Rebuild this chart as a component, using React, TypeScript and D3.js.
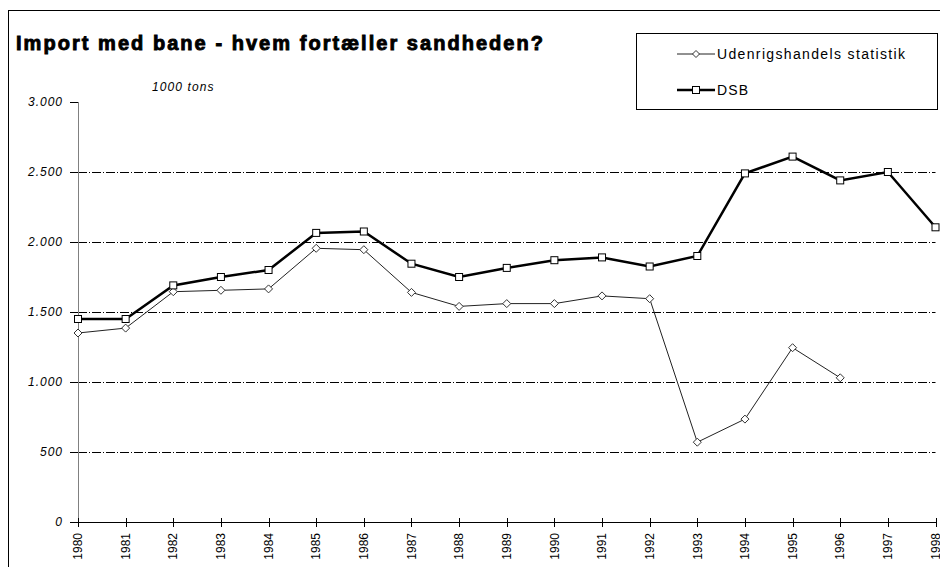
import React from 'react'
import * as d3 from 'd3'

const years = [1980, 1981, 1982, 1983, 1984, 1985, 1986, 1987, 1988, 1989, 1990, 1991, 1992, 1993, 1994, 1995, 1996, 1997, 1998]
const udenrigs = [1350, 1385, 1645, 1655, 1665, 1955, 1945, 1640, 1540, 1560, 1560, 1615, 1595, 570, 735, 1245, 1030]
const dsb = [1450, 1450, 1690, 1750, 1800, 2065, 2075, 1845, 1750, 1815, 1870, 1890, 1825, 1900, 2490, 2610, 2440, 2500, 2105]
const yTicks = [0, 500, 1000, 1500, 2000, 2500, 3000]
const yTickLabels = ['0', '500', '1.000', '1.500', '2.000', '2.500', '3.000']

const font = '"Liberation Sans", Arial, sans-serif'

const App = () => {
  const x = d3.scaleLinear().domain([1980, 1998]).range([78, 935.5])
  const y = d3.scaleLinear().domain([0, 3000]).range([522, 102])

  const line = d3.line<number>()
    .x((d, i) => x(years[i]))
    .y(d => y(d))

  const diamond = (cx: number, cy: number, r: number) =>
    `M${cx},${cy - r}L${cx + r},${cy}L${cx},${cy + r}L${cx - r},${cy}Z`

  return (
    <div style={{ position: 'fixed', left: 0, top: 0 }}>
      <svg width={940} height={567} style={{ display: 'block', background: '#fff' }}>
        {/* outer frame */}
        <rect x={8.5} y={10.5} width={1000} height={1000} fill="none" stroke="#000" />

        <text x={16} y={50} fontFamily={font} fontWeight="bold" fontSize={20}
          stroke="#000" strokeWidth={0.9} textLength={527} lengthAdjust="spacing">
          Import med bane - hvem fortæller sandheden?
        </text>

        <text x={152} y={91} fontFamily={font} fontStyle="italic" fontSize={12} letterSpacing={1.1}>
          1000 tons
        </text>

        {/* grid lines */}
        {yTicks.filter(t => t > 0 && t < 3000).map(t => (
          <line key={'g' + t} x1={78} x2={935.5} y1={Math.round(y(t)) + 0.5} y2={Math.round(y(t)) + 0.5}
            stroke="#000" strokeDasharray="9,2,1,2" />
        ))}

        {/* y axis */}
        <line x1={78.5} x2={78.5} y1={y(3000)} y2={y(0)} stroke="#808080" />
        {yTicks.map((t, i) => (
          <g key={'y' + t}>
            <line x1={70} x2={78} y1={Math.round(y(t)) + 0.5} y2={Math.round(y(t)) + 0.5} stroke="#000" />
            <text x={63} y={y(t)} dy="0.35em" textAnchor="end" fontFamily={font}
              fontStyle="italic" fontSize={12} letterSpacing={1}>
              {yTickLabels[i]}
            </text>
          </g>
        ))}

        {/* x axis */}
        <line x1={78} x2={936} y1={522.5} y2={522.5} stroke="#000" />
        {years.map(yr => (
          <g key={'x' + yr}>
            <line x1={Math.round(x(yr)) + 0.5} x2={Math.round(x(yr)) + 0.5} y1={518} y2={527} stroke="#000" />
            <text transform={`translate(${x(yr)},533) rotate(-90)`} dy="0.35em" textAnchor="end"
              fontFamily={font} fontSize={12}>
              {yr}
            </text>
          </g>
        ))}

        {/* Udenrigshandels statistik */}
        <path d={line(udenrigs) || ''} fill="none" stroke="#222" strokeWidth={1} />
        {udenrigs.map((v, i) => (
          <path key={'u' + i} d={diamond(x(years[i]), y(v), 4)} fill="#fff" stroke="#333" strokeWidth={1} />
        ))}

        {/* DSB */}
        <path d={line(dsb) || ''} fill="none" stroke="#000" strokeWidth={2.5} />
        {dsb.map((v, i) => (
          <rect key={'d' + i} x={x(years[i]) - 3.5} y={y(v) - 3.5} width={7} height={7}
            fill="#fff" stroke="#000" strokeWidth={1} />
        ))}

        {/* legend */}
        <rect x={636.5} y={33.5} width={301} height={76} fill="#fff" stroke="#000" />
        <line x1={677} x2={715} y1={54} y2={54} stroke="#222" />
        <path d={diamond(696, 54, 3.5)} fill="#fff" stroke="#333" />
        <text x={717} y={54} dy="0.35em" fontFamily={font} fontSize={14} letterSpacing={1.35}>
          Udenrigshandels statistik
        </text>
        <line x1={677} x2={715} y1={90} y2={90} stroke="#000" strokeWidth={2.5} />
        <rect x={692.5} y={86.5} width={7} height={7} fill="#fff" stroke="#000" />
        <text x={717} y={90} dy="0.35em" fontFamily={font} fontSize={14} letterSpacing={1.2}>
          DSB
        </text>
      </svg>
    </div>
  )
}

export default App
